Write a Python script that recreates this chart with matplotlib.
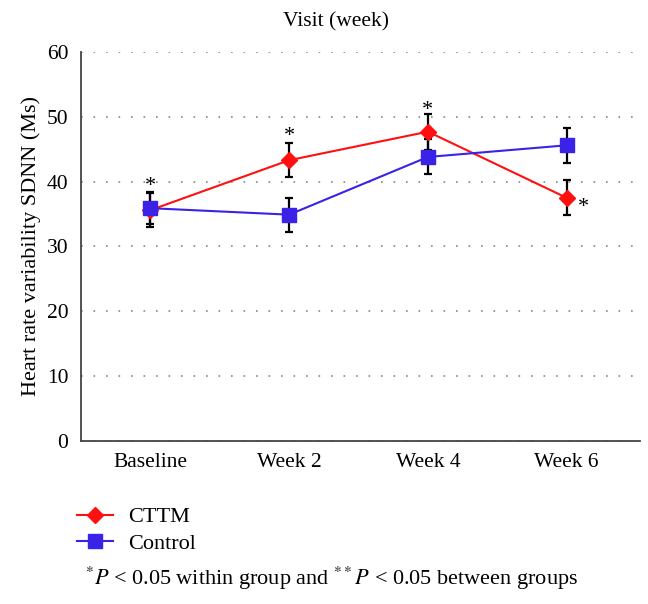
import matplotlib.pyplot as plt
import numpy as np

plt.rcParams['font.family'] = 'Liberation Serif'
plt.rcParams['mathtext.fontset'] = 'stix'

visits = ['Baseline', 'Week 2', 'Week 4', 'Week 6']
cttm = [35.6, 43.3, 47.7, 37.5]
cttm_err = [2.6, 2.6, 2.8, 2.7]
control = [35.9, 34.9, 43.8, 45.6]
control_err = [2.5, 2.6, 2.7, 2.7]
# asterisk positions (x index, y value)
stars = [(0, 39.3), (1, 47.0), (2, 50.9), (3.12, 36.0)]

fig = plt.figure(figsize=(6.48, 6.04), dpi=100)
ax = fig.add_axes([0.125, 0.270, 0.863, 0.644])
x = np.arange(len(visits))

ax.errorbar(x, control, yerr=control_err, fmt='none', ecolor='black', elinewidth=1.6, capsize=2.8, capthick=1.6, zorder=2)
ax.errorbar(x, cttm, yerr=cttm_err, fmt='none', ecolor='black', elinewidth=1.6, capsize=2.8, capthick=1.6, zorder=2)
ax.plot(x, cttm, color='#ff1010', marker='D', markersize=8, lw=1.5, label='CTTM', zorder=3)
ax.plot(x, control, color='#3a22e6', marker='s', markersize=9.5, lw=1.5, label='Control', zorder=4)

for sx, sy in stars:
    ax.text(sx, sy, '*', ha='center', va='center', fontsize=16)

ax.set_xlim(-0.5, 3.53)
ax.set_ylim(0, 60)
ax.set_yticks(range(0, 61, 10))
ax.set_xticks(x)
ax.set_xticklabels(visits)
ax.tick_params(length=0, labelsize=15.5, pad=9)
ax.yaxis.grid(True, linestyle=(0, (1, 6.5)), color='#888888', lw=1.2)
ax.set_axisbelow(True)
for s in ['top', 'right']:
    ax.spines[s].set_visible(False)
for s in ['left', 'bottom']:
    ax.spines[s].set_color('#444444')
    ax.spines[s].set_linewidth(1.3)
ax.set_ylabel('Heart rate variability SDNN (Ms)', fontsize=16)
ax.yaxis.set_label_coords(-0.072, 0.5)

fig.text(0.518, 0.964, 'Visit (week)', ha='center', va='center', fontsize=15.5)

h, l = ax.get_legend_handles_labels()
fig.legend(h, l, loc='upper left', bbox_to_anchor=(0.119, 0.161), frameon=False,
           borderpad=0, borderaxespad=0,
           fontsize=16, handlelength=1.6, labelspacing=0.28, handletextpad=0.7)
fig.text(0.131, 0.043, r'$^{*}\mathit{P}$ < 0.05 within group and $^{**}\mathit{P}$ < 0.05 between groups',
         ha='left', va='center', fontsize=16)

fig.savefig('out.png', dpi=100)
